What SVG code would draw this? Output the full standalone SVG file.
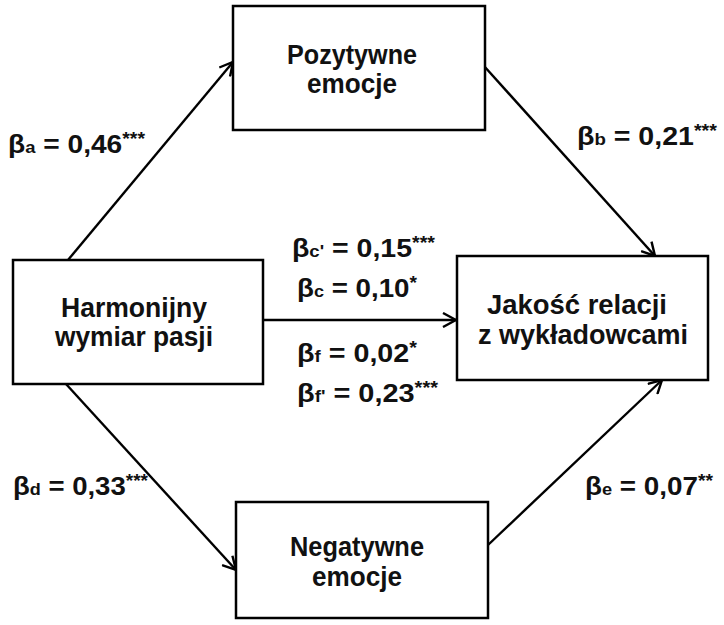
<svg xmlns="http://www.w3.org/2000/svg" width="724" height="625" viewBox="0 0 724 625">
<style>
.box{fill:#fff;stroke:#000;stroke-width:2.5}
.t{font-family:"Liberation Sans",Arial,sans-serif;font-weight:bold;font-size:27px;fill:#111;text-anchor:middle}
.l{font-family:"Liberation Sans",Arial,sans-serif;font-weight:bold;font-size:26px;fill:#111}
.sub{font-size:17px}
.sup{font-size:18px}
.c{stroke:#000;stroke-width:2.4;fill:none}
</style>
<defs>
<marker id="ah" viewBox="0 0 16 16" refX="15" refY="8" markerWidth="16" markerHeight="16" markerUnits="userSpaceOnUse" orient="auto">
<path d="M2,1 L15,8 L2,15" fill="none" stroke="#000" stroke-width="2.4"/>
</marker>
</defs>
<rect width="724" height="625" fill="#fff"/>
<g id="connectors">
<line class="c" x1="68" y1="260" x2="233" y2="62" marker-end="url(#ah)"/>
<line class="c" x1="484" y1="66" x2="655" y2="256" marker-end="url(#ah)"/>
<line class="c" x1="263" y1="320" x2="456" y2="320" marker-end="url(#ah)"/>
<line class="c" x1="66" y1="384" x2="236" y2="570" marker-end="url(#ah)"/>
<line class="c" x1="488" y1="545" x2="662" y2="380" marker-end="url(#ah)"/>
</g>
<g id="pozytywne">
<rect class="box" x="233" y="6" width="252" height="124"/>
<text class="t" x="352" y="64" textLength="130" lengthAdjust="spacingAndGlyphs">Pozytywne</text>
<text class="t" x="352" y="93" textLength="90" lengthAdjust="spacingAndGlyphs">emocje</text>
</g>
<g id="harmonijny">
<rect class="box" x="13" y="260" width="250" height="124"/>
<text class="t" x="134" y="317" textLength="146" lengthAdjust="spacingAndGlyphs">Harmonijny</text>
<text class="t" x="134" y="346" textLength="158" lengthAdjust="spacingAndGlyphs">wymiar pasji</text>
</g>
<g id="jakosc">
<rect class="box" x="457" y="256" width="251" height="124"/>
<text class="t" x="577" y="314" textLength="180" lengthAdjust="spacingAndGlyphs">Jakość relacji</text>
<text class="t" x="583" y="344" textLength="210" lengthAdjust="spacingAndGlyphs">z wykładowcami</text>
</g>
<g id="negatywne">
<rect class="box" x="236" y="502" width="252" height="116"/>
<text class="t" x="357" y="556" textLength="134" lengthAdjust="spacingAndGlyphs">Negatywne</text>
<text class="t" x="357" y="586" textLength="90" lengthAdjust="spacingAndGlyphs">emocje</text>
</g>
<g id="labels">
<text class="l" x="8" y="153" textLength="137" lengthAdjust="spacingAndGlyphs">β<tspan class="sub">a</tspan> = 0,46<tspan class="sup" dy="-8">***</tspan></text>
<text class="l" x="577" y="145" textLength="140" lengthAdjust="spacingAndGlyphs">β<tspan class="sub">b</tspan> = 0,21<tspan class="sup" dy="-8">***</tspan></text>
<text class="l" x="292" y="257" textLength="143" lengthAdjust="spacingAndGlyphs">β<tspan class="sub">c'</tspan> = 0,15<tspan class="sup" dy="-8">***</tspan></text>
<text class="l" x="297" y="297" textLength="120" lengthAdjust="spacingAndGlyphs">β<tspan class="sub">c</tspan> = 0,10<tspan class="sup" dy="-8">*</tspan></text>
<text class="l" x="297" y="362" textLength="120" lengthAdjust="spacingAndGlyphs">β<tspan class="sub">f</tspan> = 0,02<tspan class="sup" dy="-8">*</tspan></text>
<text class="l" x="297" y="402" textLength="141" lengthAdjust="spacingAndGlyphs">β<tspan class="sub">f'</tspan> = 0,23<tspan class="sup" dy="-8">***</tspan></text>
<text class="l" x="13" y="495" textLength="135" lengthAdjust="spacingAndGlyphs">β<tspan class="sub">d</tspan> = 0,33<tspan class="sup" dy="-8">***</tspan></text>
<text class="l" x="585" y="495" textLength="128" lengthAdjust="spacingAndGlyphs">β<tspan class="sub">e</tspan> = 0,07<tspan class="sup" dy="-8">**</tspan></text>
</g>
</svg>
